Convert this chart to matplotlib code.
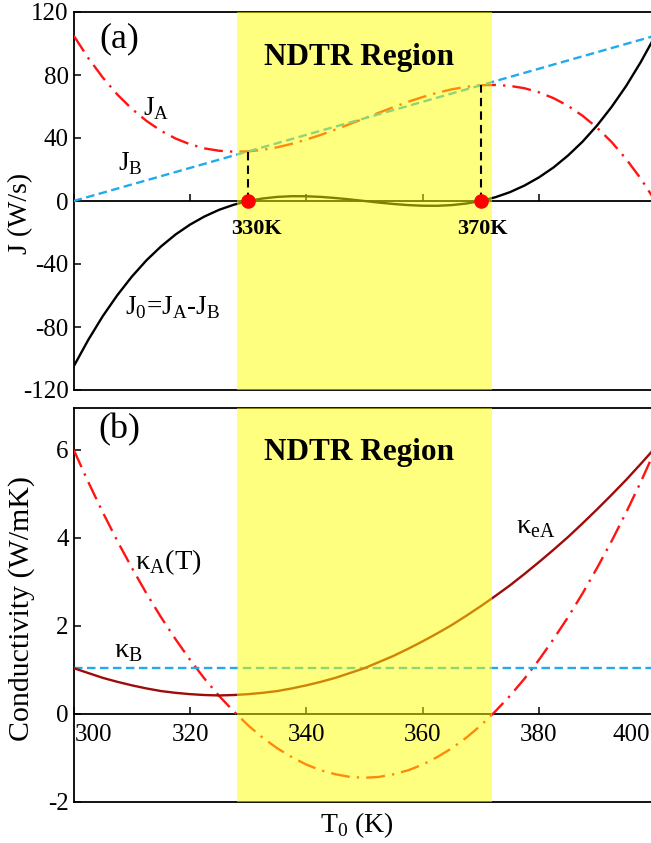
import matplotlib.pyplot as plt

plt.rcParams['font.family'] = 'Liberation Serif'
plt.rcParams['mathtext.fontset'] = 'custom'
plt.rcParams['mathtext.rm'] = 'Liberation Serif'
plt.rcParams['axes.unicode_minus'] = False

# temperaturas (K), passo de 2.5 K
T = [300, 302.5, 305, 307.5, 310, 312.5, 315, 317.5, 320, 322.5, 325,
     327.5, 330, 332.5, 335, 337.5, 340, 342.5, 345, 347.5, 350,
     352.5, 355, 357.5, 360, 362.5, 365, 367.5, 370, 372.5, 375,
     377.5, 380, 382.5, 385, 387.5, 390, 392.5, 395, 397.5, 400]

# painel (a): fluxos J (W/s)
J_A = [105, 90.8, 78.4, 67.6, 58.5, 50.9, 44.6, 39.7, 36.0, 33.4, 31.9,
       31.3, 31.5, 32.5, 34.1, 36.3, 39.0, 42.0, 45.4, 48.9, 52.5,
       56.1, 59.6, 63.0, 66.0, 68.7, 70.9, 72.5, 73.5, 73.7, 73.1,
       71.6, 69.0, 65.3, 60.4, 54.1, 46.5, 37.4, 26.6, 14.2, 0.0]
J_0 = [-105, -88.2, -73.1, -59.8, -48.0, -37.7, -28.9, -21.3, -15.0, -9.8, -5.6,
       -2.4, 0.0, 1.6, 2.6, 3.05, 3.0, 2.6, 1.9, 1.0, 0.0,
       -1.0, -1.9, -2.6, -3.0, -3.05, -2.6, -1.6, 0.0, 2.4, 5.6,
       9.8, 15.0, 21.3, 28.9, 37.7, 48.0, 59.8, 73.1, 88.2, 105]
T_B = [300, 400]
J_B = [0, 105]
T_cross = [330, 370]
J_cross = [31.5, 73.5]

# painel (b): condutividades (W/mK)
kappa_A = [6.0, 5.27, 4.58, 3.93, 3.32, 2.74, 2.20, 1.70, 1.23, 0.80, 0.41,
           0.06, -0.26, -0.54, -0.78, -0.98, -1.15, -1.28, -1.37, -1.43, -1.45,
           -1.43, -1.37, -1.28, -1.15, -0.98, -0.78, -0.54, -0.26, 0.06, 0.41,
           0.80, 1.23, 1.70, 2.20, 2.74, 3.32, 3.93, 4.58, 5.27, 6.0]
kappa_eA = [1.04, 0.93, 0.82, 0.73, 0.65, 0.58, 0.52, 0.48, 0.45, 0.43, 0.42,
            0.43, 0.45, 0.48, 0.52, 0.58, 0.65, 0.73, 0.82, 0.93, 1.04,
            1.18, 1.32, 1.48, 1.65, 1.83, 2.02, 2.23, 2.45, 2.68, 2.92,
            3.18, 3.45, 3.73, 4.02, 4.33, 4.65, 4.98, 5.32, 5.68, 6.05]
kappa_B = [1.05, 1.05]

ndtr = (328, 372)
xticks = [300, 320, 340, 360, 380, 400]
xtick_shift = [14, 0, 0, 0, 0, -17.6]   # rótulos das pontas deslocados p/ dentro

red = '#FF1414'
cyan = '#22AAEE'
dred = '#9E0B0B'
LW = 1.7

fig = plt.figure(figsize=(6.51, 8.43), dpi=100)
W = 581.6 / 651
ax1 = fig.add_axes([73.7 / 651, 1 - 390 / 843, W, 378 / 843])
ax2 = fig.add_axes([73.7 / 651, 1 - 802 / 843, W, 394 / 843])


def style(ax):
    for s in ax.spines.values():
        s.set_linewidth(1.3)
    ax.spines['bottom'].set_position(('data', 0))
    ax.plot([0, 1], [0, 0], transform=ax.transAxes, color='k', lw=1.3,
            clip_on=False, zorder=2.5)
    ax.tick_params(direction='in', length=5, width=1.1, labelsize=18)
    ax.set_xlim(300, 400)
    ax.set_xticks(xticks)
    ax.set_xticklabels([])
    ax.axvspan(ndtr[0], ndtr[1], color='#FFFF00', alpha=0.5, lw=0, zorder=4)


# ---- (a) ----
style(ax1)
ax1.set_ylim(-120, 120)
ax1.set_yticks([-120, -80, -40, 0, 40, 80, 120])
ax1.plot(T, J_A, color=red, lw=LW, dashes=(8, 3, 1, 3), zorder=3)
ax1.plot(T_B, J_B, color=cyan, lw=LW, dashes=(3.6, 1.9), zorder=3)
ax1.plot(T, J_0, color='k', lw=LW, zorder=3)
for t, j in zip(T_cross, J_cross):
    ax1.plot([t, t], [0, j], color='k', lw=1.5, dashes=(4, 2.5), zorder=5)
ax1.plot(T_cross, [0, 0], 'o', color='red', ms=9.5, zorder=6, clip_on=False)
ax1.text(331.5, -17.5, '330K', fontsize=16, fontweight='bold',
         ha='center', va='center', zorder=7)
ax1.text(370.2, -17.5, '370K', fontsize=16, fontweight='bold',
         ha='center', va='center', zorder=7)
ax1.text(349, 91, 'NDTR Region', fontsize=22.5, fontweight='bold',
         ha='center', va='center', zorder=7)
ax1.text(307.8, 103, '(a)', fontsize=26, ha='center', va='center', zorder=7)
ax1.text(311.9, 54, r'J$_\mathrm{A}$', fontsize=19.5, zorder=7)
ax1.text(307.6, 19.5, r'J$_\mathrm{B}$', fontsize=19.5, zorder=7)
ax1.text(308.8, -72, r'J$_\mathrm{0}$=J$_\mathrm{A}$-J$_\mathrm{B}$',
         fontsize=19.5, zorder=7)
ax1.set_ylabel('J (W/s)', fontsize=20)
ax1.yaxis.set_label_coords(-0.07, 0.466)

# ---- (b) ----
style(ax2)
ax2.set_ylim(-2, 6.95)
ax2.set_yticks([-2, 0, 2, 4, 6])
for t, dx in zip(xticks, xtick_shift):
    ax2.annotate(str(t), xy=(t, 0), xytext=(dx, -7), textcoords='offset points',
                 ha='center', va='top', fontsize=18, zorder=7)
ax2.plot(T, kappa_A, color=red, lw=LW, dashes=(8, 3, 1, 3), zorder=3)
ax2.plot(T_B, kappa_B, color=cyan, lw=LW, dashes=(3.6, 1.9), zorder=3)
ax2.plot(T, kappa_eA, color=dred, lw=LW, zorder=3)
ax2.text(349, 5.95, 'NDTR Region', fontsize=22.5, fontweight='bold',
         ha='center', va='center', zorder=7)
ax2.text(307.8, 6.45, '(b)', fontsize=26, ha='center', va='center', zorder=7)
ax2.text(310.5, 3.3, r'κ$_\mathrm{A}$(T)', fontsize=20.5, zorder=7)
ax2.text(307, 1.3, r'κ$_\mathrm{B}$', fontsize=20.5, zorder=7)
ax2.text(376, 4.1, r'κ$_\mathrm{eA}$', fontsize=20.5, zorder=7)
ax2.set_ylabel('Conductivity (W/mK)', fontsize=21.5)
ax2.yaxis.set_label_coords(-0.067, 0.491)
ax2.set_xlabel(r'T$_\mathrm{0}$ (K)', fontsize=20)
ax2.xaxis.set_label_coords(0.487, -0.022)

fig.savefig('out.png', dpi=100)
